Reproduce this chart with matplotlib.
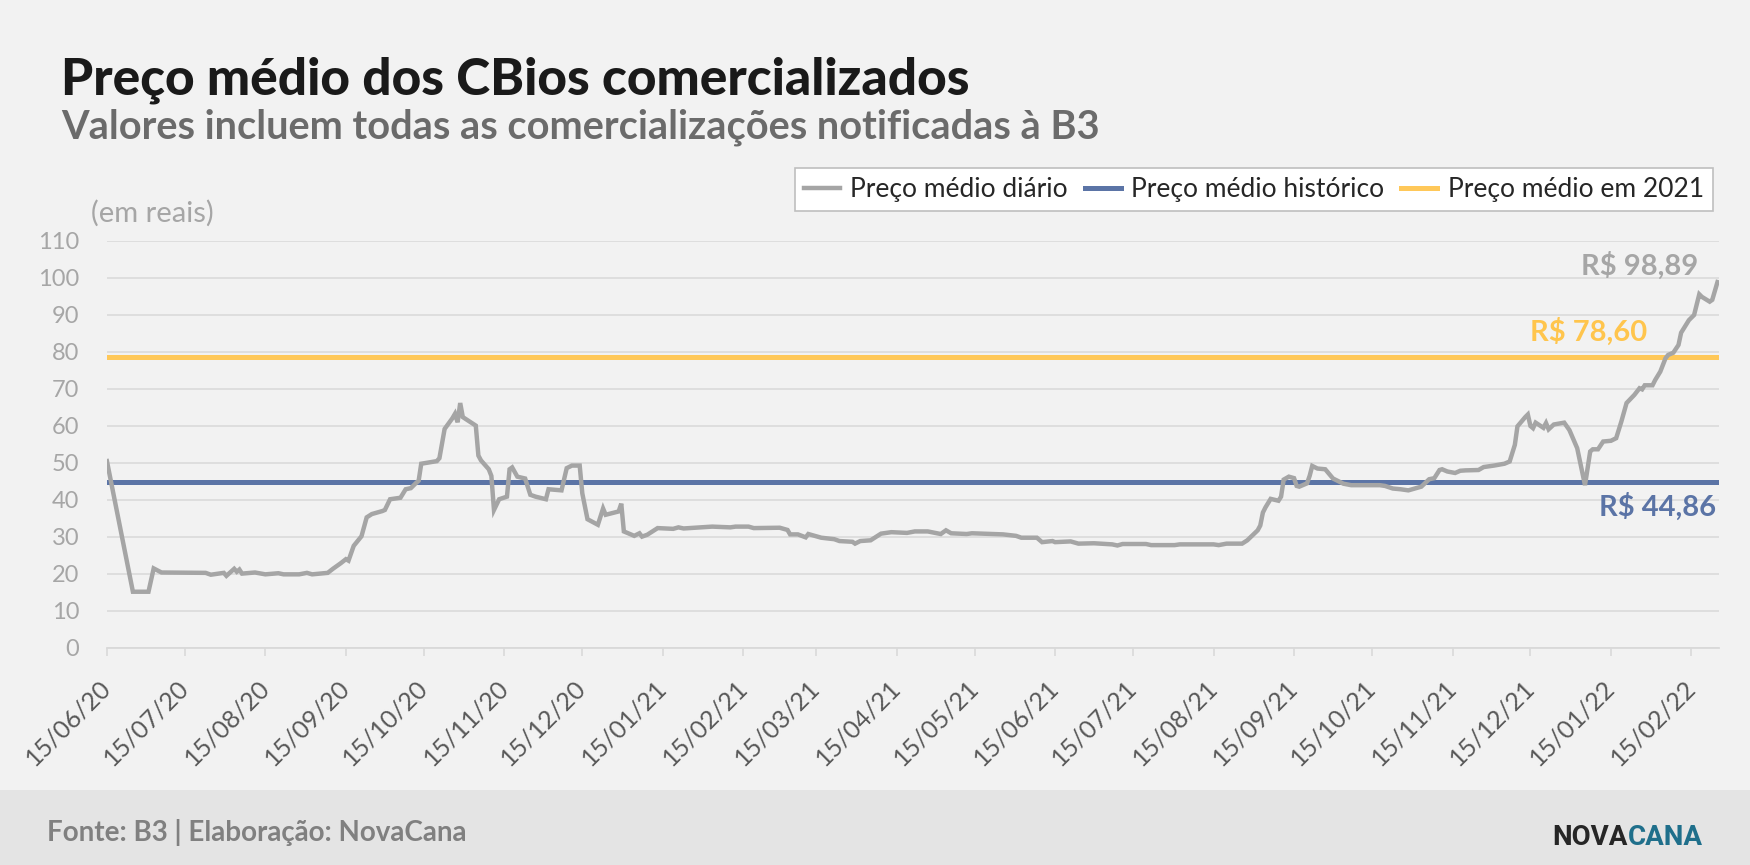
import numpy as np
import pandas as pd
import matplotlib
matplotlib.use("Agg")
import matplotlib.pyplot as plt
import matplotlib.dates as mdates
from matplotlib.patches import Rectangle

# ---------- data ----------
inicio = pd.Timestamp("2020-06-15")

# days after 15/06/20 and daily mean price (R$)
dias = [0, 10, 16, 17, 18, 21, 38, 40, 45, 46, 49, 50, 51, 52, 57, 61, 66, 68, 74, 77,
        79, 85, 87, 90, 92, 93, 95, 98, 100, 102, 106, 107, 109, 113, 115, 117, 119, 120, 121, 127,
        128, 130, 133, 134, 135, 136, 137, 142, 143, 144, 147, 148, 149, 151, 154, 155, 156, 158, 161, 163,
        165, 169, 170, 175, 177, 179, 182, 183, 185, 189, 191, 192, 197, 198, 199, 203, 205, 206, 208, 212,
        218, 220, 222, 233, 240, 242, 247, 249, 259, 262, 263, 266, 269, 270, 275, 280, 282, 287, 288, 290,
        294, 298, 302, 308, 311, 316, 321, 323, 325, 331, 333, 345, 350, 352, 358, 360, 364, 365, 371, 374,
        380, 387, 389, 391, 400, 402, 411, 413, 426, 428, 431, 437, 439, 443, 444, 445, 446, 448, 451, 452,
        453, 455, 457, 458, 459, 462, 463, 464, 466, 469, 472, 476, 479, 490, 492, 495, 498, 501, 506, 509,
        511, 513, 514, 516, 519, 521, 523, 528, 530, 534, 538, 540, 542, 543, 546, 547, 548, 549, 550, 553,
        554, 555, 557, 561, 563, 566, 569, 571, 572, 574, 576, 579, 581, 583, 585, 588, 590, 591, 592, 595,
        596, 598, 600, 601, 603, 605, 606, 609, 611, 613, 614, 617, 618, 620]
preco = [50.5, 15.2, 15.2, 18.4, 21.5, 20.4, 20.3, 19.8, 20.3, 19.5, 21.4, 20.6, 21.2, 20.1, 20.4, 19.9, 20.2, 19.9, 19.9, 20.3,
         19.9, 20.3, 21.4, 22.9, 24.0, 23.6, 27.6, 30.2, 35.3, 36.2, 37.0, 37.3, 40.2, 40.6, 42.9, 43.2, 44.6, 45.2, 49.8, 50.5,
         51.3, 59.2, 62.1, 63.3, 61.0, 66.2, 62.4, 60.1, 52.0, 50.7, 48.3, 46.5, 37.3, 40.2, 40.9, 48.3, 48.8, 46.3, 45.8, 41.4,
         40.9, 40.2, 42.9, 42.6, 48.6, 49.3, 49.3, 41.8, 34.8, 33.3, 37.7, 36.0, 36.9, 39.0, 31.5, 30.3, 31.0, 30.1, 30.6, 32.4,
         32.2, 32.6, 32.3, 32.8, 32.6, 32.8, 32.8, 32.4, 32.5, 31.9, 30.7, 30.7, 29.9, 30.8, 29.8, 29.4, 28.9, 28.7, 28.2, 28.9,
         29.1, 30.9, 31.3, 31.1, 31.5, 31.5, 30.8, 31.8, 31.0, 30.8, 31.0, 30.7, 30.3, 29.8, 29.8, 28.6, 28.9, 28.6, 28.8, 28.2,
         28.3, 28.0, 27.7, 28.1, 28.1, 27.8, 27.8, 28.0, 28.0, 27.8, 28.2, 28.2, 29.1, 31.8, 33.1, 36.6, 38.0, 40.3, 39.8, 40.9,
         45.5, 46.3, 45.9, 43.8, 43.6, 44.5, 46.5, 49.2, 48.5, 48.3, 45.8, 44.4, 44.0, 44.0, 43.8, 43.1, 42.9, 42.6, 43.6, 45.6,
         45.9, 48.1, 48.3, 47.7, 47.3, 47.9, 48.0, 48.1, 48.9, 49.3, 49.8, 50.4, 54.9, 59.9, 62.4, 63.1, 60.0, 59.4, 60.9, 59.5,
         60.8, 59.1, 60.4, 60.9, 58.9, 54.0, 44.0, 53.1, 53.7, 53.7, 55.8, 56.0, 56.7, 61.2, 66.2, 68.4, 70.2, 69.9, 71.0, 71.0,
         72.4, 74.7, 78.3, 79.2, 79.8, 81.9, 85.2, 88.6, 90.0, 95.6, 94.9, 93.6, 94.1, 98.89]

media_historica = 44.86
media_2021 = 78.60

# ---------- style ----------
plt.rcParams["font.family"] = ["Lato", "DejaVu Sans"]
FUNDO = "#f2f2f2"
CINZA = "#a5a5a5"
AZUL = "#5b74a6"
AMARELO = "#ffc859"

datas = inicio + pd.to_timedelta(dias, unit="D")

fig = plt.figure(figsize=(17.5, 8.65), dpi=100, facecolor=FUNDO)
ax = fig.add_axes([0.0611, 0.2509, 0.9212, 0.4705])
ax.set_facecolor(FUNDO)

ax.plot(datas, preco, color=CINZA, lw=3.2, label="Preço médio diário", zorder=4,
        solid_joinstyle="miter")
ax.axhline(media_historica, color=AZUL, lw=3.6, label="Preço médio histórico", zorder=3)
ax.axhline(media_2021, color=AMARELO, lw=3.6, label="Preço médio em 2021", zorder=3)

ax.set_ylim(0, 110)
ax.set_yticks(np.arange(0, 111, 10))
ax.set_xlim(inicio, inicio + pd.Timedelta(days=620.6))
ax.xaxis.set_major_locator(mdates.DayLocator(bymonthday=15))
ax.xaxis.set_major_formatter(mdates.DateFormatter("%d/%m/%y"))

ax.yaxis.grid(True, color="#dcdcdc", lw=1.3)
ax.set_axisbelow(True)
for s in ["top", "right", "left"]:
    ax.spines[s].set_visible(False)
ax.spines["bottom"].set_color("#d9d9d9")
ax.spines["bottom"].set_linewidth(1.3)

ax.tick_params(axis="y", length=0, labelsize=17, labelcolor="#a6a6a6", pad=20)
ax.tick_params(axis="x", length=6, width=1.2, color="#d9d9d9", labelsize=18,
               labelcolor="#595959", pad=20)
for lab in ax.get_xticklabels():
    lab.set_rotation(45)
    lab.set_ha("right")
    lab.set_va("center")
    lab.set_rotation_mode("anchor")

# value labels
ax.annotate("R$ 98,89", xy=(datas[-1], preco[-1]), xytext=(-14, 12), textcoords="offset points",
            ha="right", va="center", fontsize=21, fontweight="bold", color="#a6a6a6")
ax.annotate("R$ 78,60", xy=(1.0, media_2021), xycoords=("axes fraction", "data"),
            xytext=(-52, 18), textcoords="offset points",
            ha="right", va="center", fontsize=21, fontweight="bold", color="#ffc54d")
ax.annotate("R$ 44,86", xy=(1.0, media_historica), xycoords=("axes fraction", "data"),
            xytext=(-2, -18), textcoords="offset points",
            ha="right", va="center", fontsize=21, fontweight="bold", color=AZUL)

# legend
leg = ax.legend(loc="upper right", bbox_to_anchor=(1713 / 1750, 1 - 168 / 865),
                bbox_transform=fig.transFigure, ncol=3, fontsize=19, frameon=True,
                fancybox=False, edgecolor="#bfbfbf", facecolor="white", framealpha=1,
                handlelength=1.35, handletextpad=0.4, columnspacing=0.65,
                borderpad=0.35, borderaxespad=0)
leg.get_frame().set_linewidth(1.2)
for t in leg.get_texts():
    t.set_color("#262626")

# titles
fig.text(61 / 1750, 1 - 94 / 865, "Preço médio dos CBios comercializados", fontsize=37,
         fontweight="black", color="#1a1a1a", va="baseline")
fig.text(61 / 1750, 1 - 139 / 865, "Valores incluem todas as comercializações notificadas à B3",
         fontsize=28.6, fontweight="bold", color="#6b6b6b", va="baseline")
fig.text(91 / 1750, 1 - 213 / 865, "(em reais)", fontsize=21, color="#a6a6a6", va="center")

# footer
fig.patches.append(Rectangle((0, 0), 1, 75 / 865, transform=fig.transFigure,
                             facecolor="#e4e4e4", edgecolor="none", zorder=-1))
fig.text(47 / 1750, 1 - 832 / 865, "Fonte: B3 | Elaboração: NovaCana", fontsize=20,
         fontweight="bold", color="#808080", va="center")
cana = fig.text(1703 / 1750, 1 - 845 / 865, "CANA", fontsize=20, fontweight="bold",
                family=["Roboto", "DejaVu Sans"], color="#1f6f8b", ha="right", va="baseline")
ax.annotate("NOVA", xy=(0, 0), xycoords=cana, xytext=(0, 0), textcoords="offset points",
            ha="right", va="bottom", fontsize=20, fontweight="bold",
            family=["Roboto", "DejaVu Sans"], color="#262626", annotation_clip=False)

fig.savefig("out.png", dpi=100, facecolor=FUNDO)
